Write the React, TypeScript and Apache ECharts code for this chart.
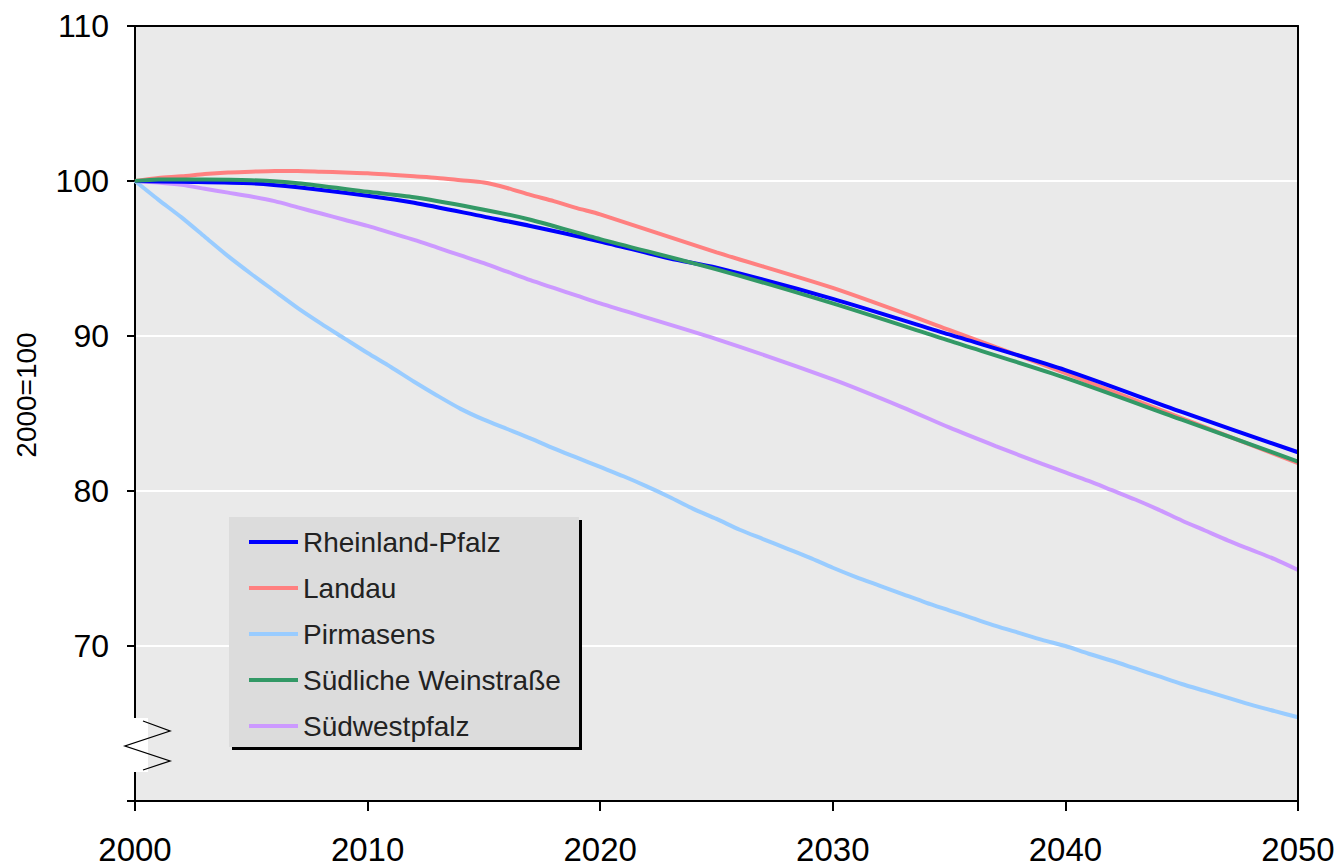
import React, { useEffect, useRef } from "react";
import * as echarts from "echarts";

const FONT = 'Arial, "Liberation Sans", sans-serif';

const seriesNames = ["Rheinland-Pfalz", "Landau", "Pirmasens", "Südliche Weinstraße", "Südwestpfalz"];
const seriesColors = ["#0000ff", "#ff8080", "#99ccff", "#339966", "#cc99ff"];

const xTicks = [2000, 2010, 2020, 2030, 2040, 2050];
const yTickLabels = ["", "70", "80", "90", "100", "110"];

const rpYears = [2000, 2002, 2005, 2007, 2010, 2012, 2015, 2017, 2020, 2023, 2025, 2030, 2035, 2040, 2045, 2050];
const rpValues = [100, 99.95, 99.85, 99.6, 99.05, 98.6, 97.7, 97.1, 96.1, 95.0, 94.4, 92.4, 90.1, 87.8, 85.1, 82.5];

const landauYears = [2000, 2001, 2002, 2003, 2004, 2005, 2006, 2007, 2008, 2009, 2010, 2011, 2012, 2013, 2014, 2015, 2016, 2017, 2018, 2019, 2020, 2025, 2030, 2035, 2040, 2045, 2050];
const landauValues = [100, 100.2, 100.3, 100.45, 100.55, 100.6, 100.65, 100.65, 100.6, 100.55, 100.5, 100.4, 100.3, 100.2, 100.05, 99.9, 99.55, 99.1, 98.7, 98.25, 97.85, 95.4, 93.1, 90.4, 87.6, 84.7, 81.8];

const pirmasensYears = [2000, 2001, 2002, 2003, 2004, 2005, 2006, 2007, 2008, 2009, 2010, 2011, 2012, 2013, 2014, 2015, 2016, 2017, 2018, 2019, 2020, 2021, 2022, 2023, 2024, 2025, 2026, 2027, 2028, 2029, 2030, 2031, 2032, 2033, 2034, 2035, 2036, 2037, 2038, 2039, 2040, 2041, 2042, 2043, 2044, 2045, 2046, 2047, 2048, 2049, 2050];
const pirmasensValues = [100, 98.8, 97.65, 96.4, 95.15, 94.0, 92.9, 91.8, 90.8, 89.85, 88.9, 88.0, 87.05, 86.15, 85.3, 84.6, 84.0, 83.4, 82.75, 82.15, 81.55, 80.95, 80.3, 79.6, 78.85, 78.2, 77.5, 76.9, 76.3, 75.7, 75.05, 74.45, 73.9, 73.35, 72.8, 72.3, 71.8, 71.3, 70.85, 70.4, 70.0, 69.5, 69.05, 68.55, 68.05, 67.55, 67.1, 66.65, 66.2, 65.8, 65.4];

const sweYears = [2000, 2001, 2003, 2005, 2007, 2010, 2012, 2015, 2017, 2020, 2025, 2030, 2035, 2040, 2045, 2050];
const sweValues = [100, 100.1, 100.1, 100.05, 99.85, 99.3, 98.95, 98.15, 97.5, 96.25, 94.3, 92.1, 89.7, 87.3, 84.6, 81.9];

const swpYears = [2000, 2001, 2002, 2003, 2004, 2005, 2006, 2007, 2008, 2009, 2010, 2011, 2012, 2013, 2014, 2015, 2016, 2017, 2018, 2019, 2020, 2025, 2030, 2033, 2035, 2037, 2039, 2040, 2041, 2042, 2043, 2044, 2045, 2046, 2047, 2048, 2049, 2050];
const swpValues = [100, 99.9, 99.75, 99.5, 99.25, 99.0, 98.7, 98.3, 97.9, 97.5, 97.1, 96.65, 96.2, 95.7, 95.2, 94.7, 94.15, 93.6, 93.1, 92.6, 92.1, 89.8, 87.2, 85.4, 84.1, 82.9, 81.75, 81.2, 80.65, 80.05, 79.45, 78.8, 78.1, 77.45, 76.8, 76.2, 75.6, 74.9];

const pairs = (xs: number[], ys: number[]) => xs.map((x, i) => [x, ys[i]]);

export default function App() {
  const ref = useRef<HTMLDivElement>(null);

  useEffect(() => {
    if (!ref.current) return;
    const chart = echarts.init(ref.current, null, { renderer: "svg" });

    const dataByName: Record<string, number[][]> = {
      "Rheinland-Pfalz": pairs(rpYears, rpValues),
      Landau: pairs(landauYears, landauValues),
      Pirmasens: pairs(pirmasensYears, pirmasensValues),
      "Südliche Weinstraße": pairs(sweYears, sweValues),
      Südwestpfalz: pairs(swpYears, swpValues),
    };
    // drawing order (later on top)
    const drawOrder = ["Landau", "Pirmasens", "Südwestpfalz", "Rheinland-Pfalz", "Südliche Weinstraße"];

    const series = drawOrder.map((name) => {
      const idx = seriesNames.indexOf(name);
      return {
        name,
        type: "line",
        data: dataByName[name],
        smooth: 0.25,
        showSymbol: false,
        symbol: "none",
        lineStyle: { color: seriesColors[idx], width: 4 },
        itemStyle: { color: seriesColors[idx] },
        z: 2,
      };
    });

    const option = {
      animation: false,
      backgroundColor: "#ffffff",
      grid: {
        left: 135,
        top: 26,
        right: 42,
        bottom: 66,
        show: true,
        backgroundColor: "#eaeaea",
        borderWidth: 0,
      },
      xAxis: [
        {
          type: "value",
          min: 2000,
          max: 2050,
          interval: 10,
          position: "bottom",
          z: 3,
          axisLine: { show: true, lineStyle: { color: "#000", width: 2 } },
          axisTick: { show: true, inside: false, length: 10, lineStyle: { color: "#000", width: 2 } },
          axisLabel: {
            color: "#000",
            fontSize: 33,
            fontFamily: FONT,
            margin: 32,
            formatter: (v: number) => (xTicks.includes(v) ? String(v) : ""),
          },
          splitLine: { show: false },
        },
        {
          type: "value",
          min: 2000,
          max: 2050,
          interval: 10,
          position: "top",
          z: 3,
          axisLine: { show: true, lineStyle: { color: "#000", width: 2 } },
          axisTick: { show: false },
          axisLabel: { show: false },
          splitLine: { show: false },
        },
      ],
      yAxis: [
        {
          type: "value",
          min: 60,
          max: 110,
          interval: 10,
          position: "left",
          axisLine: { show: true, lineStyle: { color: "#000", width: 2 } },
          axisTick: { show: true, inside: false, length: 8, lineStyle: { color: "#000", width: 2 } },
          axisLabel: {
            color: "#000",
            fontSize: 32,
            fontFamily: FONT,
            margin: 26,
            formatter: (v: number) => yTickLabels[Math.round((v - 60) / 10)] ?? "",
          },
          splitLine: { show: true, lineStyle: { color: "#ffffff", width: 2 } },
        },
        {
          type: "value",
          min: 60,
          max: 110,
          interval: 10,
          position: "right",
          z: 3,
          axisLine: { show: true, lineStyle: { color: "#000", width: 2 } },
          axisTick: { show: false },
          axisLabel: { show: false },
          splitLine: { show: false },
        },
      ],
      legend: {
        show: true,
        data: seriesNames,
        orient: "vertical",
        left: 249,
        top: 527,
        padding: 0,
        itemWidth: 49,
        itemHeight: 4,
        itemGap: 16,
        icon: "rect",
        textStyle: { color: "#222", fontSize: 28, fontFamily: FONT, lineHeight: 30 },
        selectedMode: false,
        z: 5,
      },
      graphic: [
        // legend box with shadow
        { type: "rect", z: 1, shape: { x: 232, y: 520, width: 350, height: 230 }, style: { fill: "#000" } },
        { type: "rect", z: 1, shape: { x: 229, y: 517, width: 350, height: 230 }, style: { fill: "#dcdcdc" } },
        // y-axis name
        {
          type: "text",
          z: 10,
          x: 26,
          y: 395,
          rotation: Math.PI / 2,
          style: {
            text: "2000=100",
            fontSize: 28,
            fontFamily: FONT,
            fill: "#000",
            align: "center",
            verticalAlign: "middle",
          },
        },
        // axis break
        { type: "rect", z: 20, shape: { x: 133, y: 718, width: 15, height: 54 }, style: { fill: "#ffffff" } },
        {
          type: "polyline",
          z: 21,
          shape: { points: [[143, 721], [170, 731], [125, 746], [170, 761], [143, 770]] },
          style: { stroke: "#000", lineWidth: 1.3, fill: null },
        },
      ],
      series,
    };

    chart.setOption(option as any);
    return () => chart.dispose();
  }, []);

  return (
    <div
      ref={ref}
      style={{ position: "absolute", left: 0, top: 0, width: 1340, height: 867 }}
    />
  );
}
